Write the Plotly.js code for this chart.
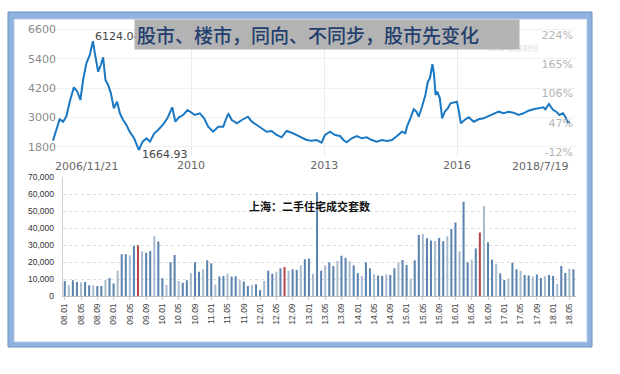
<!DOCTYPE html>
<html>
<head>
<meta charset="utf-8">
<script src="https://cdn.plot.ly/plotly-3.0.1.min.js"></script>
<style>html,body{margin:0;padding:0;background:#fff}#chart{width:620px;height:374px}</style>
</head>
<body>
<div id="chart"></div>
<script>
// ---- Top chart: Shanghai Composite index ----
var stockDates2006_2010 = ['2006-11-21','2006-12-17','2007-01-15','2007-02-13','2007-03-12','2007-04-08','2007-05-12','2007-06-10','2007-07-05','2007-07-27','2007-08-23','2007-09-20','2007-10-16','2007-11-01','2007-11-28','2007-12-20','2008-01-08','2008-01-27','2008-02-18','2008-03-12','2008-04-05','2008-05-02','2008-05-25','2008-06-21','2008-07-18','2008-08-14','2008-09-19','2008-10-28','2008-11-28','2008-12-31','2009-01-28','2009-03-04','2009-04-05','2009-05-16','2009-06-20','2009-07-30','2009-08-25','2009-09-23','2009-10-28','2009-12-03','2009-12-31','2010-02-02','2010-03-14','2010-04-19','2010-05-22','2010-07-02','2010-08-13','2010-09-23','2010-10-29'];
var stockValues2006_2010 = [2050,2484,2922,2824,3057,3643,4233,4053,3713,4532,5216,5556,6124,5625,4872,5146,5461,4532,4327,3987,3373,3643,3168,2894,2689,2414,2144,1665,2005,2144,2005,2349,2484,2717,2963,3414,2824,3004,3098,3303,3193,3098,3168,2963,2619,2414,2619,2619,3098];
var stockDates2010_2014 = ['2010-11-06','2010-12-03','2011-01-14','2011-02-24','2011-04-14','2011-05-17','2011-06-27','2011-08-06','2011-09-16','2011-10-27','2011-12-07','2012-01-17','2012-02-27','2012-04-09','2012-05-20','2012-06-30','2012-08-10','2012-09-20','2012-10-31','2012-12-11','2013-01-08','2013-02-19','2013-04-01','2013-05-12','2013-06-09','2013-07-06','2013-08-16','2013-09-27','2013-11-07','2013-12-18','2014-01-28','2014-03-12','2014-04-21','2014-06-01','2014-07-14','2014-08-24','2014-10-04','2014-11-01'];
var stockValues2010_2014 = [3139,2894,2758,2894,3029,2824,2689,2554,2414,2443,2279,2185,2443,2373,2279,2185,2074,2046,2074,1964,2279,2414,2279,2238,2074,1980,2144,2238,2144,2185,2074,2005,2074,2033,2074,2238,2414,2349];
var stockDates2014_2018 = ['2014-11-14','2014-12-12','2015-01-09','2015-01-31','2015-02-19','2015-03-18','2015-04-15','2015-05-05','2015-05-22','2015-06-12','2015-06-24','2015-07-08','2015-07-22','2015-08-12','2015-08-31','2015-09-22','2015-10-16','2015-11-08','2015-12-05','2015-12-31','2016-01-14','2016-02-01','2016-03-02','2016-04-06','2016-05-17','2016-06-26','2016-08-06','2016-09-16','2016-10-28','2016-12-08','2017-01-18','2017-02-28','2017-04-10','2017-05-21','2017-07-01','2017-08-11','2017-09-21','2017-11-01','2017-12-12','2017-12-28','2018-01-26','2018-03-02','2018-03-28','2018-04-22','2018-05-22','2018-06-10','2018-07-01','2018-07-19'];
var stockValues2014_2018 = [2619,2963,3332,3234,3029,3438,3918,4462,4601,5178,4806,3918,4053,3783,2963,3234,3373,3578,3602,3643,3303,2758,2894,3004,2824,2922,2963,3057,3139,3234,3168,3234,3193,3098,3168,3275,3332,3373,3414,3332,3549,3303,3234,3098,3168,3029,2783,2824];

var leftTicks = [1800, 3000, 4200, 5400, 6600];
var rightTicks = [-12, 47, 106, 165, 224];
var yearTickDates = ['2010-01-01', '2013-01-01', '2016-01-01'];
var yearTickText = ['2010', '2013', '2016'];

// ---- Bottom chart: Shanghai second-hand housing deals per month ----
var deals2008 = [8800, 6300, 9200, 8200, 8000, 8200, 6300, 6300, 5900, 5900, 9400, 10600];
var deals2009 = [7400, 14900, 24500, 24500, 23900, 29600, 29800, 26300, 25500, 26500, 35100, 32000];
var deals2010 = [10400, 6500, 19800, 24100, 8800, 7800, 9200, 13600, 19800, 14300, 15700, 21000];
var deals2011 = [19200, 6700, 11400, 11800, 13100, 11400, 11600, 9200, 8600, 5900, 6500, 6900];
var deals2012 = [3500, 8800, 14900, 13100, 14300, 16300, 17100, 14900, 15700, 15300, 18000, 21600];
var deals2013 = [22000, 13100, 61000, 14900, 18000, 19800, 17600, 20600, 23700, 22400, 20400, 18000];
var deals2014 = [13500, 11800, 19800, 16300, 12700, 12000, 11800, 12700, 12400, 16300, 19800, 21200];
var deals2015 = [18200, 10200, 21000, 35900, 36300, 33900, 32700, 32400, 34100, 32200, 35100, 39400];
var deals2016 = [43300, 26300, 55500, 19800, 21400, 28000, 37300, 52900, 31600, 21400, 18800, 13300];
var deals2017 = [9400, 10200, 19600, 15700, 14900, 12400, 12000, 11400, 12700, 10600, 11600, 12400];
var deals2018 = [11800, 7100, 17600, 13500, 16100, 15700];
var dealYears = ['08','09','10','11','12','13','14','15','16','17','18'];
var monthTickLabels = ['08.01','08.05','08.09','09.01','09.05','09.09','10.01','10.05','10.09','11.01','11.05','11.09','12.01','12.05','12.09','13.01','13.05','13.09','14.01','14.05','14.09','15.01','15.05','15.09','16.01','16.05','16.09','17.01','17.05','17.09','18.01','18.05'];
var redMonths = ['09.07', '12.07', '16.07'];

// ---- build ----
var stockDates = stockDates2006_2010.concat(stockDates2010_2014, stockDates2014_2018);
var stockValues = stockValues2006_2010.concat(stockValues2010_2014, stockValues2014_2018);
var dealSets = [deals2008,deals2009,deals2010,deals2011,deals2012,deals2013,deals2014,deals2015,deals2016,deals2017,deals2018];
var months = [], deals = [];
dealSets.forEach(function (arr, yi) {
  arr.forEach(function (v, mi) {
    months.push(dealYears[yi] + '.' + (mi < 9 ? '0' : '') + (mi + 1));
    deals.push(v);
  });
});
var barColors = months.map(function (m, i) {
  if (redMonths.indexOf(m) >= 0) return '#b5474a';
  return (i % 3 === 1) ? '#a9bccf' : '#5a83b0';
});

var W = 620, H = 374;
function px(x) { return x / W; }
function py(y) { return 1 - y / H; }

var tickFontTop = {family: 'DejaVu Sans', size: 11, color: '#8a8a8a'};

var traces = [
  {type: 'scatter', mode: 'lines', x: stockDates, y: stockValues, xaxis: 'x', yaxis: 'y',
   line: {color: '#1b78c2', width: 2}, hoverinfo: 'skip'},
  // invisible helper so the right-hand percentage axis is drawn
  {type: 'scatter', mode: 'markers', x: [stockDates[0]], y: [rightTicks[0]], xaxis: 'x', yaxis: 'y2',
   marker: {opacity: 0, size: 1}, hoverinfo: 'skip'},
  {type: 'bar', x: months, y: deals, xaxis: 'x2', yaxis: 'y3', width: 0.5,
   marker: {color: barColors, line: {width: 0}}, hoverinfo: 'skip'}
];

var layout = {
  width: W, height: H,
  margin: {l: 0, r: 0, t: 0, b: 0},
  paper_bgcolor: '#ffffff', plot_bgcolor: 'rgba(0,0,0,0)',
  showlegend: false,
  xaxis: {domain: [px(48), px(575)], anchor: 'y', type: 'date',
    range: ['2006-10-11', '2018-08-29'], tickvals: yearTickDates, ticktext: yearTickText,
    showgrid: true, gridcolor: '#ebebeb', zeroline: false, showline: false, ticks: '',
    tickfont: {family: 'DejaVu Sans', size: 11, color: '#666'}},
  yaxis: {domain: [py(157), py(25)], anchor: 'free', position: px(56),
    range: [1378, 6785], tickvals: leftTicks, showgrid: true, gridcolor: '#f0f0f0',
    zeroline: false, showline: false, ticks: '', tickfont: tickFontTop},
  yaxis2: {overlaying: 'y', side: 'left', anchor: 'free', position: px(573),
    range: [-22.07, 243.7], tickvals: rightTicks,
    ticktext: rightTicks.map(function (v) { return v + '%'; }),
    showgrid: false, zeroline: false, showline: false, ticks: '',
    tickfont: {family: 'DejaVu Sans', size: 11, color: '#b4b4b4'}},
  xaxis2: {domain: [px(62.7), px(575.5)], anchor: 'y3', type: 'category',
    range: [-0.5, months.length - 0.5], tickmode: 'array', tickvals: monthTickLabels, tickangle: -90,
    showgrid: false, showline: true, linecolor: '#bdbdbd', ticks: 'outside', ticklen: 3,
    tickcolor: '#c8c8c8', tickfont: {family: 'Liberation Sans', size: 8.5, color: '#444'}},
  yaxis3: {domain: [py(296), py(177)], anchor: 'x2', range: [0, 70000],
    tickvals: [0, 10000, 20000, 30000, 40000, 50000, 60000, 70000], tickformat: ',',
    showgrid: true, gridcolor: '#dcdcdc', griddash: 'dot', zeroline: false,
    showline: true, linecolor: '#d0d0d0', ticks: 'outside', ticklen: 6, tickcolor: 'rgba(0,0,0,0)',
    tickfont: {family: 'Liberation Sans', size: 8.5, color: '#333'}},
  shapes: [
    {type: 'rect', xref: 'paper', yref: 'paper', layer: 'below',
     x0: px(8), x1: px(592), y0: py(347), y1: py(12), fillcolor: '#8fb2de', line: {color: '#6f93c4', width: 1}},
    {type: 'rect', xref: 'paper', yref: 'paper', layer: 'below',
     x0: px(14), x1: px(587), y0: py(342), y1: py(19), fillcolor: '#ffffff', line: {color: '#b8cbe6', width: 1}}
  ],
  annotations: [
    {text: '6124.04', xref: 'x', yref: 'paper', x: '2007-10-16', y: py(37), xanchor: 'left', yanchor: 'middle',
     showarrow: false, font: {family: 'DejaVu Sans', size: 11, color: '#444'}},
    {text: '1664.93', xref: 'x', yref: 'paper', x: '2008-10-28', y: py(154), xanchor: 'left', yanchor: 'middle',
     xshift: 1, showarrow: false, font: {family: 'DejaVu Sans', size: 11, color: '#444'}},
    {text: '2006/11/21', xref: 'x', yref: 'paper', x: stockDates[0], y: py(166), xanchor: 'left', yanchor: 'middle',
     showarrow: false, font: {family: 'DejaVu Sans', size: 11, color: '#666'}},
    {text: '2018/7/19', xref: 'x', yref: 'paper', x: stockDates[stockDates.length - 1], y: py(166), xanchor: 'right', yanchor: 'middle',
     showarrow: false, font: {family: 'DejaVu Sans', size: 11, color: '#666'}},
    {text: 'sina 新浪财经', xref: 'paper', yref: 'paper', x: px(486), y: py(49), xanchor: 'left', yanchor: 'middle',
     showarrow: false, font: {family: 'DejaVu Sans', size: 8, color: '#dedede'}},
    {text: '股市、楼市，同向、不同步，股市先变化', xref: 'paper', yref: 'paper', x: px(134), y: py(18.5),
     xanchor: 'left', yanchor: 'top', width: 380, height: 25, align: 'left', valign: 'middle', borderpad: 2,
     bgcolor: '#b3b3b3', showarrow: false, font: {family: 'Noto Sans CJK SC', size: 19, color: '#243f6e', weight: 500}},
    {text: '上海：二手住宅成交套数', xref: 'paper', yref: 'paper', x: px(247), y: py(206), xanchor: 'left', yanchor: 'middle',
     showarrow: false, font: {family: 'Noto Sans CJK SC', size: 11, color: '#111', weight: 'bold'}}
  ]
};

Plotly.newPlot('chart', traces, layout, {displayModeBar: false, staticPlot: true});
</script>
</body>
</html>
